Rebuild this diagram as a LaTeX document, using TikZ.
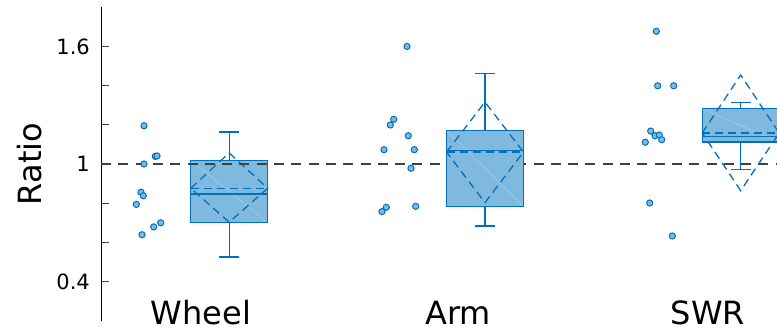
\documentclass[tikz,border=0pt]{standalone}
\usepackage{fontspec}
\setmainfont{DejaVu Sans}
\definecolor{azul}{RGB}{0,114,189}
\definecolor{azulclaro}{RGB}{128,185,222}
\definecolor{gris}{RGB}{64,64,64}
\begin{document}
\begin{tikzpicture}[x=1pt, y=196pt,
    referencia/.style={gris, line width=1.3pt, dash pattern=on 10pt off 7.3pt},
    linea/.style={azul, line width=1.3pt},
    rombo/.style={azul, line width=1.3pt, dash pattern=on 8pt off 5pt},
    punto/.style={draw=azul, fill=azulclaro, line width=1pt},
    etiqueta/.style={font=\fontsize{21}{21}\selectfont, anchor=east, inner sep=0pt},
    grupo/.style={font=\fontsize{32}{32}\selectfont, anchor=base, inner sep=0pt}]
    \useasboundingbox (0,0.142857) rectangle (777,1.836735);

    % Dibuja el eje
    \draw[line width=1pt] (101,1.8) -- (101,0.199);
    \foreach \v in {0.4,0.6,...,1.7}
    \draw[gris, line width=1pt] (101,\v) -- (109,\v);
    \node[etiqueta] (t16) at (90,1.6) {1.6};
    \node[etiqueta] (t10) at (90,1) {1};
    \node[etiqueta] (t04) at (90,0.4) {0.4};
    \node[rotate=90, font=\fontsize{32}{32}\selectfont] (ratio) at (29.7,1) {Ratio};

    % Dibuja la linea de referencia
    \draw[referencia] (101,1) -- (777,1);

    % Dibuja las cajas
    \foreach \c/\qb/\qa/\med/\mu/\wb/\wa/\db/\da in {229.2/0.700/1.019/0.847/0.876/0.526/1.163/0.703/1.056,
        485/0.782/1.172/1.068/1.061/0.684/1.461/0.803/1.316,
        740.7/1.112/1.282/1.141/1.158/0.971/1.315/0.864/1.454}
    {
        \fill[azulclaro] (\c-38.5,\qb) rectangle (\c+38.5,\qa);
        \draw[white, opacity=0.35, line width=0.4pt] (\c-38.5,\qa) -- (\c+38.5,\qb);
        \draw[linea] (\c,\qa) -- (\c,\wa) (\c-10,\wa) -- (\c+10,\wa);
        \draw[linea] (\c,\qb) -- (\c,\wb) (\c-10,\wb) -- (\c+10,\wb);
        \draw[linea] (\c-38.5,\med) -- (\c+38.5,\med);
        \draw[rombo] (\c-38.5,\mu) -- (\c+38.5,\mu);
        \draw[rombo] (\c-38.5,\mu) -- (\c,\da) -- (\c+38.5,\mu) -- (\c,\db) -- cycle;
        \draw[linea] (\c-38.5,\qb) rectangle (\c+38.5,\qa);
    }

    % La linea de referencia se ve sobre la primera caja
    \begin{scope}
        \clip (190.7,0.700) rectangle (267.7,1.019);
        \draw[referencia] (101,1) -- (777,1);
    \end{scope}

    % Dibuja los puntos
    \foreach \x/\v in {144/1.195, 155.3/1.039, 157/1.041, 144/1.0, 141/0.856, 143.3/0.838,
        136.3/0.794, 160.7/0.700, 153.7/0.679, 142/0.639,
        407/1.600, 393.7/1.228, 390.3/1.199, 408.3/1.144, 384/1.073, 414.3/1.073,
        411/0.978, 386.3/0.779, 382/0.757, 415.7/0.784,
        656.3/1.677, 657.7/1.399, 673.7/1.399, 650.7/1.168, 655/1.144, 659.3/1.148,
        661.7/1.124, 645.3/1.111, 649.7/0.801, 672.3/0.633}
    \draw[punto] (\x,\v) circle (3.1pt);

    % Nombres de los grupos
    \node[grupo] (wheel) at (201,0.1786) {Wheel};
    \node[grupo] (arm) at (458,0.1786) {Arm};
    \node[grupo] (swr) at (708,0.1786) {SWR};
\end{tikzpicture}
\end{document}
